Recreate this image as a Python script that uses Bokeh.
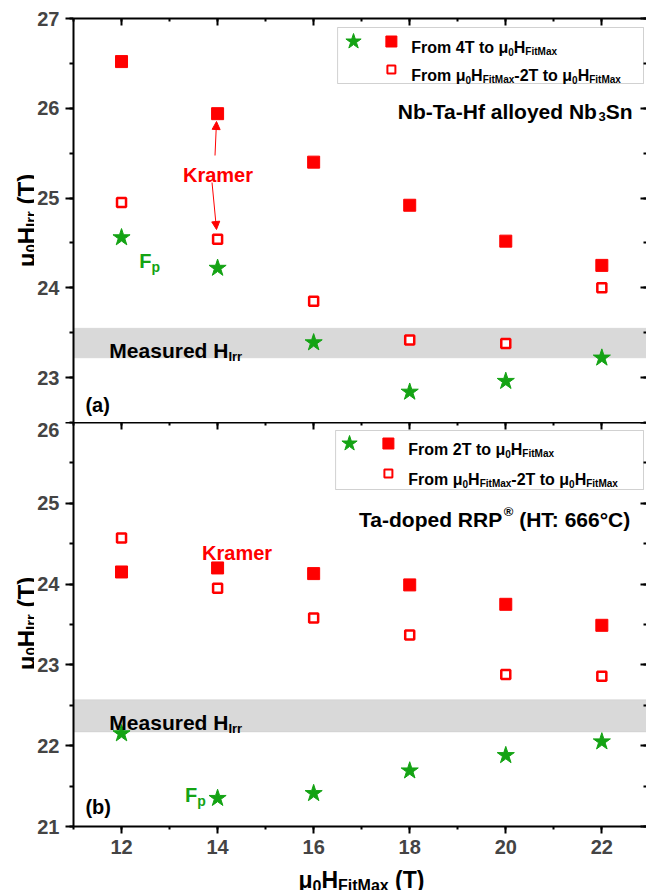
from bokeh.plotting import figure
from bokeh.models import (Range1d, LinearAxis, SingleIntervalTicker, Label, BoxAnnotation,
                          Arrow, NormalHead, ColumnDataSource, Grid)
from bokeh.layouts import column, row
from bokeh.embed import file_html
from bokeh.resources import INLINE
import math

# ---------------- data ----------------
x_fitmax = [12, 14, 16, 18, 20, 22]
x_ticks = [12, 14, 16, 18, 20, 22]

# (a) Nb-Ta-Hf alloyed Nb3Sn
a_kramer_full = [26.52, 25.94, 25.40, 24.92, 24.52, 24.25]   # From 4T to mu0H_FitMax
a_kramer_last = [24.95, 24.54, 23.85, 23.42, 23.38, 24.00]   # From mu0H_FitMax-2T to mu0H_FitMax
a_fp = [24.56, 24.22, 23.39, 22.84, 22.96, 23.22]
a_measured = [23.22, 23.55]

# (b) Ta-doped RRP (HT: 666C)
b_kramer_full = [24.15, 24.20, 24.13, 23.99, 23.75, 23.49]   # From 2T to mu0H_FitMax
b_kramer_last = [24.57, 23.95, 23.58, 23.37, 22.88, 22.86]
b_fp = [22.15, 21.35, 21.41, 21.69, 21.88, 22.05]
b_measured = [22.17, 22.57]

a_yrange = [22.5, 27]
b_yrange = [21, 26]
x_range = [11, 22.93]

RED = "#FF0000"
GREEN = "#14A314"
FONT = "Liberation Sans"

# ---------------- layout constants (pixels) ----------------
W_PX = 646
H_PX = 890
TITLE_W = 34          # strip holding the rotated y titles
LEFT = 71             # x of the plot frames' left edge
TOP = 18
FRAME_H = 404
BOTTOM = 36           # tick-label border under panel (b)
XT_H = H_PX - (TOP + FRAME_H) - (FRAME_H + BOTTOM)
FRAME_W = W_PX - LEFT

def px2x(px):
    return x_range[0] + (px - LEFT) * (x_range[1] - x_range[0]) / FRAME_W

def py2y_a(py):
    return a_yrange[1] - (py - TOP) * (a_yrange[1] - a_yrange[0]) / FRAME_H

def py2y_b(py):
    top = TOP + FRAME_H
    return b_yrange[1] - (py - top) * (b_yrange[1] - b_yrange[0]) / FRAME_H

# Arial/Liberation Sans Bold advance widths (per 1000 em)
WID = {' ': 278, '(': 333, ')': 333, '-': 333, ':': 333, '°': 400, '®': 737, 'μ': 611,
       'C': 722, 'F': 611, 'H': 722, 'I': 278, 'K': 722, 'M': 833, 'N': 722, 'P': 667,
       'R': 722, 'S': 667, 'T': 611,
       'a': 556, 'b': 611, 'd': 611, 'e': 556, 'f': 333, 'i': 278, 'l': 278, 'm': 889,
       'n': 611, 'o': 611, 'p': 611, 'r': 389, 's': 556, 't': 333, 'u': 611, 'x': 556, 'y': 556}

def tw(s, size):
    return sum(WID.get(c, 556) for c in s) * size / 1000.0

def mk_label(x, y, text, sz, color, angle=0.0, xo=0.0, yo=0.0):
    return Label(x=x, y=y, text=text, text_font=FONT, text_font_size=f"{sz}px",
                 text_font_style="bold", text_color=color, text_align="left",
                 text_baseline="alphabetic", angle=angle, x_offset=xo, y_offset=yo)

def rich(fig, x, y, segs, color="black", align="left"):
    """Horizontal text made of segments (text, size_px, baseline_shift_px)."""
    total = sum(tw(t, sz) for t, sz, sh in segs)
    adv = {"left": 0.0, "right": -total, "center": -total / 2.0}[align]
    for t, sz, sh in segs:
        lead = len(t) - len(t.lstrip(" "))
        body = t.strip(" ")
        if body:
            fig.add_layout(mk_label(x, y, body, sz, color, xo=adv + tw(" " * lead, sz), yo=sh))
        adv += tw(t, sz)

def rich_vertical(fig, x, yc, segs, color="black"):
    """Text rotated 90 deg (reads bottom to top) in a figure whose data units are pixels."""
    total = sum(tw(t, sz) for t, sz, sh in segs)
    pos = yc - total / 2.0
    for t, sz, sh in segs:
        lead = len(t) - len(t.lstrip(" "))
        body = t.strip(" ")
        if body:
            fig.add_layout(mk_label(x - sh, pos + tw(" " * lead, sz), body, sz, color,
                                    angle=math.pi / 2))
        pos += tw(t, sz)

def style_axis(ax, tin, tout, labels=True, line=True):
    ax.axis_line_width = 2
    ax.axis_line_color = "black" if line else None
    ax.major_tick_line_width = 2
    ax.minor_tick_line_width = 2
    ax.major_tick_in = tin
    ax.major_tick_out = tout
    ax.minor_tick_in = tin // 2
    ax.minor_tick_out = tout // 2
    if labels:
        ax.major_label_text_font = FONT
        ax.major_label_text_font_style = "bold"
        ax.major_label_text_font_size = "20px"
        ax.major_label_standoff = 6
    else:
        ax.major_label_text_font_size = "1px"
        ax.major_label_text_color = None
        ax.major_label_standoff = 0

def drop_grids(p):
    p.center = [c for c in p.center if not isinstance(c, Grid)]

def blank_fig(w, h, xr, yr):
    p = figure(width=w, height=h, x_range=Range1d(*xr), y_range=Range1d(*yr),
               x_axis_location=None, y_axis_location=None, output_backend="svg",
               toolbar_location=None, min_border=0)
    p.outline_line_color = None
    drop_grids(p)
    return p

def make_fig(yr, height, top_border, bottom_border, bottom_axis):
    p = figure(width=W_PX - TITLE_W, height=height, x_range=Range1d(*x_range), y_range=Range1d(*yr),
               x_axis_location=None, y_axis_location=None, output_backend="svg",
               toolbar_location=None, min_border_left=LEFT - TITLE_W, min_border_right=0,
               min_border_top=top_border, min_border_bottom=bottom_border)
    p.outline_line_color = None
    p.background_fill_color = "white"
    p.border_fill_color = "white"
    xt = SingleIntervalTicker(interval=2, num_minor_ticks=2)
    yt = SingleIntervalTicker(interval=1, num_minor_ticks=2)
    left = LinearAxis(ticker=yt)
    style_axis(left, 0, 8)
    p.add_layout(left, "left")
    right = LinearAxis(ticker=yt)
    style_axis(right, 6, 0, labels=False, line=False)
    p.add_layout(right, "right")
    top = LinearAxis(ticker=xt)
    style_axis(top, 7, 0, labels=False)
    p.add_layout(top, "above")
    if bottom_axis:
        bot = LinearAxis(ticker=xt)
        style_axis(bot, 0, 7)
        p.add_layout(bot, "below")
    drop_grids(p)
    return p

def add_series(p, full, last, fp, meas):
    p.add_layout(BoxAnnotation(bottom=meas[0], top=meas[1], fill_color="#D9D9D9", fill_alpha=1,
                               line_color="#BDBDBD", line_width=1, level="underlay"))
    src = ColumnDataSource(dict(x=x_fitmax, full=full, last=last, fp=fp))
    p.scatter("x", "full", source=src, marker="square", size=12, fill_color=RED, line_color=RED)
    p.scatter("x", "last", source=src, marker="square", size=9, fill_color="white",
              line_color=RED, line_width=2.5)
    p.scatter("x", "fp", source=src, marker="star", size=18, fill_color=GREEN, line_color=GREEN)

def add_legend(p, conv, box, rows, text1):
    (bx0, by0, bx1, by1) = box
    p.add_layout(BoxAnnotation(left=px2x(bx0), right=px2x(bx1), top=conv(by0), bottom=conv(by1),
                               fill_color="white", fill_alpha=1, line_color="#666666", line_width=1,
                               level="underlay"))
    (r1, r2, sx, qx, tx) = rows
    p.scatter([px2x(sx)], [conv(r1)], marker="star", size=16, fill_color=GREEN, line_color=GREEN)
    p.scatter([px2x(qx)], [conv(r1)], marker="square", size=11, fill_color=RED, line_color=RED)
    p.scatter([px2x(qx)], [conv(r2)], marker="square", size=8, fill_color="white",
              line_color=RED, line_width=2)
    rich(p, px2x(tx), conv(r1 + 6), text1)
    rich(p, px2x(tx), conv(r2 + 6), [("From μ", 16, 0), ("0", 10, -4), ("H", 16, 0),
                                     ("FitMax", 10, -4), ("-2T to μ", 16, 0), ("0", 10, -4),
                                     ("H", 16, 0), ("FitMax", 10, -4)])

# ---------------- panel (a) ----------------
p1 = make_fig(a_yrange, TOP + FRAME_H, TOP, 0, False)
add_series(p1, a_kramer_full, a_kramer_last, a_fp, a_measured)
add_legend(p1, py2y_a, (336, 27, 643, 83), (41, 69, 352, 390, 410),
           [("From 4T to μ", 16, 0), ("0", 10, -4), ("H", 16, 0), ("FitMax", 10, -4)])
rich(p1, px2x(632), py2y_a(111), [("Nb-Ta-Hf alloyed Nb", 21, 0), ("3", 13, -5), ("Sn", 21, 0)],
     align="right")
rich(p1, px2x(216), py2y_a(174), [("Kramer", 20, 0)], color=RED, align="center")
p1.add_layout(Arrow(end=NormalHead(size=8, fill_color=RED, line_color=RED, line_width=1),
                    x_start=px2x(213), y_start=py2y_a(155), x_end=px2x(214.5), y_end=py2y_a(121),
                    line_color=RED, line_width=1))
p1.add_layout(Arrow(end=NormalHead(size=8, fill_color=RED, line_color=RED, line_width=1),
                    x_start=px2x(210), y_start=py2y_a(182), x_end=px2x(214.5), y_end=py2y_a(229),
                    line_color=RED, line_width=1))
rich(p1, px2x(137), py2y_a(260), [("F", 20, 0), ("p", 14, -6)], color=GREEN)
rich(p1, px2x(83), py2y_a(404), [("(a)", 20, 0)])
rich(p1, px2x(107), py2y_a(350), [("Measured H", 21, 0), ("Irr", 13, -6)])

# ---------------- panel (b) ----------------
p2 = make_fig(b_yrange, FRAME_H + BOTTOM, 0, BOTTOM, True)
add_series(p2, b_kramer_full, b_kramer_last, b_fp, b_measured)
add_legend(p2, py2y_b, (334, 430, 643, 489), (443, 473, 348, 387, 407),
           [("From 2T to μ", 16, 0), ("0", 10, -4), ("H", 16, 0), ("FitMax", 10, -4)])
rich(p2, px2x(632), py2y_b(519), [("Ta-doped RRP", 21, 0), ("®", 13, 8), (" (HT: 666°C)", 21, 0)],
     align="right")
rich(p2, px2x(200), py2y_b(552), [("Kramer", 20, 0)], color=RED)
rich(p2, px2x(183), py2y_b(794), [("F", 20, 0), ("p", 14, -6)], color=GREEN)
rich(p2, px2x(83), py2y_b(806), [("(b)", 20, 0)])
rich(p2, px2x(107), py2y_b(722), [("Measured H", 21, 0), ("Irr", 13, -6)])

# ---------------- axis titles (own strips, pixel coordinates, y up) ----------------
ytitle = blank_fig(TITLE_W, H_PX, (0, TITLE_W), (0, H_PX))
ytitle_segs = [("μ", 24, 0), ("0", 15, -4), ("H", 24, 0), ("Irr", 15, -4), (" (T)", 24, 0)]
rich_vertical(ytitle, 26, H_PX - 220, ytitle_segs)
rich_vertical(ytitle, 26, H_PX - 623, ytitle_segs)

y_top_xt = H_PX - XT_H
xtitle = blank_fig(W_PX - TITLE_W, XT_H, x_range, (0, XT_H))
xtitle.min_border_left = LEFT - TITLE_W
rich(xtitle, px2x(360), XT_H - (879 - y_top_xt), [("μ", 23, 0), ("0", 16, -6), ("H", 23, 0),
                                                   ("FitMax", 16, -6), (" (T)", 23, 0)],
     align="center")

layout = row(ytitle, column(p1, p2, xtitle, spacing=0), spacing=0)
open("out.html", "w").write(file_html(layout, INLINE))
